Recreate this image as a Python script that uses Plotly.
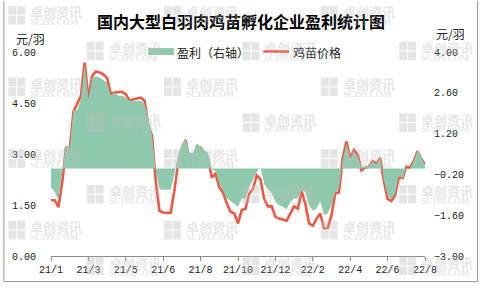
import plotly.graph_objects as go

# ---- data ----
tick_labels = ["21/1", "21/3", "21/5", "21/6", "21/8", "21/10", "21/12", "22/2", "22/4", "22/6", "22/8"]

price = [1.64, 1.64, 1.44, 2.16, 3.17, 3.12, 4.24, 4.50, 4.71, 5.69,
         4.61, 5.29, 5.43, 5.40, 5.34, 5.24, 4.76, 4.81, 4.81, 4.83,
         4.76, 4.57, 4.61, 4.64, 4.66, 4.57, 3.84, 3.54, 2.21, 1.33,
         1.28, 1.27, 1.27, 1.93, 2.74, 3.17, 3.41, 2.81, 2.84, 3.22,
         3.19, 3.03, 2.86, 2.31, 2.42, 2.02, 1.87, 1.54, 1.30, 1.25,
         0.96, 1.35, 1.39, 1.83, 1.97, 2.37, 2.26, 1.68, 1.46, 1.46,
         1.15, 1.10, 1.06, 1.04, 1.25, 1.46, 1.39, 1.90, 1.54, 0.96,
         0.89, 1.10, 1.25, 0.81, 0.82, 1.20, 1.85, 1.87, 2.88, 3.37,
         2.88, 3.12, 2.98, 2.52, 2.60, 2.62, 2.79, 2.71, 2.88, 2.21,
         1.68, 1.62, 1.79, 2.31, 2.29, 2.62, 2.60, 2.79, 3.08, 2.86,
         2.69]

profit = [-0.64, -0.80, -1.09, -0.20, 0.82, 0.71, 2.00, 2.00, 2.39, 3.57,
          2.39, 3.12, 3.17, 3.12, 3.04, 2.95, 2.50, 2.61, 2.50, 2.50,
          2.45, 2.33, 2.33, 2.33, 2.33, 2.22, 1.66, 1.18, -0.08, -0.70,
          -0.73, -0.73, -0.73, -0.19, 0.48, 0.82, 1.04, 0.54, 0.53, 0.87,
          0.73, 0.62, 0.54, -0.02, -0.08, -0.50, -0.75, -1.03, -1.11, -1.20,
          -1.31, -1.03, -1.03, -0.64, -0.36, -0.13, 0.05, -0.53, -0.70, -0.84,
          -1.14, -1.26, -1.31, -1.40, -1.14, -1.03, -1.03, -0.75, -0.80, -1.26,
          -1.45, -1.37, -1.14, -1.59, -1.54, -1.26, -0.81, -0.70, 0.31, 0.87,
          0.31, 0.60, 0.37, 0.06, 0.06, 0.08, 0.24, 0.15, 0.37, -0.38,
          -0.92, -1.07, -0.86, -0.25, -0.33, 0.01, 0.01, 0.26, 0.65, 0.43,
          0.09]

left_ticks = [0, 1.5, 3, 4.5, 6]
right_ticks = [-3, -1.6, -0.2, 1.2, 2.6, 4]

x = list(range(len(price)))
step = (len(price) - 1) // (len(tick_labels) - 1)

# ---- pixel helpers (plot area 48..425 x 52..260) ----
L, R, T, B = 48, 425, 52, 260
def px(v):
    return (v - L) / (R - L)
def py(v):
    return (B - v) / (B - T)

GREEN = "#8ec9ae"
RED = "#ef5745"
CJK = "Noto Sans CJK SC"
MONO = "Liberation Mono"

fig = go.Figure()
fig.add_trace(go.Scatter(x=x, y=profit, yaxis="y2", mode="lines", fill="tozeroy",
                         fillcolor=GREEN, line=dict(width=0, color=GREEN),
                         name="盈利（右轴）", showlegend=False))
fig.add_trace(go.Scatter(x=x, y=price, mode="lines", line=dict(color=RED, width=2.6),
                         name="鸡苗价格", showlegend=False))

fig.update_layout(
    width=480, height=288,
    margin=dict(l=L, r=480 - R, t=T, b=288 - B),
    paper_bgcolor="white", plot_bgcolor="white",
    xaxis=dict(range=[0, len(price) - 1], tickmode="array",
               tickvals=[i * step for i in range(len(tick_labels))], ticktext=tick_labels,
               showgrid=False, zeroline=False, showline=True, linecolor="#8c8c8c", linewidth=1,
               ticks="outside", ticklen=4, tickcolor="#8c8c8c",
               tickfont=dict(family=MONO, size=10, color="#222")),
    yaxis=dict(range=[0, 6], tickmode="array", tickvals=left_ticks,
               ticktext=["%.2f" % v for v in left_ticks],
               showgrid=False, zeroline=False, showline=False, ticks="",
               ticklabelstandoff=14,
               tickfont=dict(family=MONO, size=10, color="#222")),
    yaxis2=dict(range=[-3, 4], overlaying="y", side="right", tickmode="array",
                tickvals=right_ticks,
                ticktext=[("%.2f" % v).replace("-", "−") for v in right_ticks],
                showgrid=False, zeroline=False, showline=False, ticks="",
                ticklabelstandoff=8,
                tickfont=dict(family=MONO, size=10, color="#222")),
    showlegend=False,
)

ann = []
shapes = []

# title
ann.append(dict(x=px(240), y=py(20), xref="paper", yref="paper", text="<b>国内大型白羽肉鸡苗孵化企业盈利统计图</b>",
                showarrow=False, font=dict(family=CJK, size=16, color="#000"), xanchor="center", yanchor="middle"))
# unit labels
ann.append(dict(x=px(27), y=py(38), xref="paper", yref="paper", text="元/羽", showarrow=False,
                font=dict(family=CJK, size=12, color="#222"), xanchor="center", yanchor="middle"))
ann.append(dict(x=px(451), y=py(33), xref="paper", yref="paper", text="元/羽", showarrow=False,
                font=dict(family=CJK, size=12, color="#222"), xanchor="center", yanchor="middle"))
# legend (manual)
shapes.append(dict(type="rect", xref="paper", yref="paper", x0=px(146), x1=px(172), y0=py(55), y1=py(48),
                   fillcolor=GREEN, line=dict(width=0)))
ann.append(dict(x=px(173), y=py(52), xref="paper", yref="paper", text="盈利（右轴）", showarrow=False,
                font=dict(family=CJK, size=12, color="#222"), xanchor="left", yanchor="middle"))
shapes.append(dict(type="line", xref="paper", yref="paper", x0=px(262), x1=px(288), y0=py(51.5), y1=py(51.5),
                   line=dict(color=RED, width=2.6)))
ann.append(dict(x=px(290), y=py(52), xref="paper", yref="paper", text="鸡苗价格", showarrow=False,
                font=dict(family=CJK, size=12, color="#222"), xanchor="left", yanchor="middle"))

# watermarks
WM = "rgba(190,190,190,0.4)"
rows_y = [5, 41.5, 78, 114.5, 151, 187.5, 224, 260.5]
for r, y0 in enumerate(rows_y):
    xs = [5, 162, 320] if r % 2 == 0 else [84, 241, 399]
    for x0 in xs:
        for dx, dy in [(0, 0), (9, 0), (0, 10), (9, 10)]:
            shapes.append(dict(type="rect", xref="paper", yref="paper", layer="above",
                               x0=px(x0 + dx), x1=px(x0 + dx + 8), y0=py(y0 + dy + 9), y1=py(y0 + dy),
                               fillcolor=WM, line=dict(width=0)))
        ann.append(dict(x=px(x0 + 20), y=py(y0 + 6), xref="paper", yref="paper", text="<b>卓创资讯</b>",
                        showarrow=False, font=dict(family=CJK, size=13, color=WM),
                        xanchor="left", yanchor="middle"))
        ann.append(dict(x=px(x0 + 20), y=py(y0 + 16.5), xref="paper", yref="paper", text="<b>SCI99.COM</b>",
                        showarrow=False, font=dict(family="Liberation Serif", size=9, color=WM),
                        xanchor="left", yanchor="middle"))

# outer frame
for (xa, ya, xb, yb) in [(0.5, 0, 0.5, 286), (478, 0, 478, 286), (0.5, 286, 478, 286)]:
    shapes.append(dict(type="line", xref="paper", yref="paper", x0=px(xa), x1=px(xb), y0=py(ya), y1=py(yb),
                       line=dict(color="#9a9a9a", width=1)))

fig.update_layout(annotations=ann, shapes=shapes)
fig.write_html("out.html", config={"displayModeBar": False},
               post_script="document.body.style.margin='0';document.body.style.overflow='hidden';")
